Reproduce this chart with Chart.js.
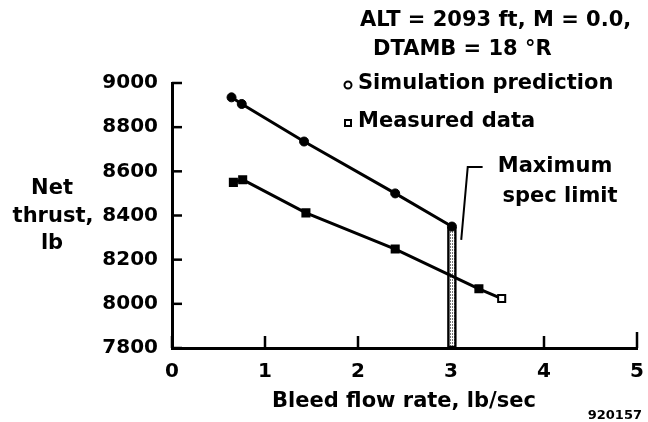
<!DOCTYPE html>
<html>
<head>
<meta charset="utf-8">
<script src="https://cdn.jsdelivr.net/npm/chart.js@4/dist/chart.umd.min.js"></script>
<style>
    html, body { margin: 0; padding: 0; background: #fff; }
    #wrap { width: 648px; height: 422px; }
</style>
</head>
<body>
<div id="wrap"><canvas id="thrust-chart" width="648" height="422"></canvas></div>
<script>
// Data
const simBleed = [0.64, 0.75, 1.42, 2.40, 3.01];
const simThrust = [8935, 8905, 8735, 8500, 8350];
const measBleed = [0.66, 0.76, 1.44, 2.40, 3.30, 3.545];
const measThrust = [8550, 8562, 8412, 8248, 8068, 8024];
const specLimitBleed = 3.01;
const specLimitThrust = [7800, 8348];
const xTicks = [0, 1, 2, 3, 4, 5];
const yTicks = [7800, 8000, 8200, 8400, 8600, 8800, 9000];

const FONT = "DejaVu Sans";

// stippled fill for the spec limit bar
function makeStipple() {
    const c = document.createElement("canvas");
    c.width = 2;
    c.height = 3;
    const g = c.getContext("2d");
    g.fillStyle = "#fff";
    g.fillRect(0, 0, 2, 3);
    g.fillStyle = "#777";
    g.fillRect(0, 0, 1, 2);
    return g.createPattern(c, "repeat");
}

// Inner tick marks and all the annotation text
const annotations = {
    id: "annotations",
    beforeDatasetsDraw(chart) {
        const ctx = chart.ctx;
        const x = chart.scales.x;
        const y = chart.scales.y;
        ctx.save();
        ctx.strokeStyle = "#000";
        ctx.lineWidth = 2.5;
        xTicks.forEach(v => {
            const px = x.getPixelForValue(v);
            const len = v === 5 ? 16 : 12;
            ctx.beginPath();
            ctx.moveTo(px, y.bottom);
            ctx.lineTo(px, y.bottom - len);
            ctx.stroke();
        });
        yTicks.forEach(v => {
            const py = y.getPixelForValue(v);
            ctx.beginPath();
            ctx.moveTo(x.left, py);
            ctx.lineTo(x.left + 10, py);
            ctx.stroke();
        });
        ctx.restore();
    },
    afterDraw(chart) {
        const ctx = chart.ctx;
        const x = chart.scales.x;
        const y = chart.scales.y;
        ctx.save();
        ctx.fillStyle = "#000";
        ctx.strokeStyle = "#000";
        ctx.textBaseline = "middle";

        // conditions block
        ctx.font = "bold 21px " + FONT;
        ctx.textAlign = "left";
        ctx.fillText("ALT = 2093 ft, M = 0.0,", 360, 21);
        ctx.fillText("DTAMB = 18 °R", 373, 50);

        // legend
        ctx.fillText("Simulation prediction", 358, 84);
        ctx.fillText("Measured data", 358, 122);
        ctx.lineWidth = 2;
        ctx.fillStyle = "#fff";
        ctx.beginPath();
        ctx.arc(348, 85, 3.5, 0, Math.PI * 2);
        ctx.fill();
        ctx.stroke();
        ctx.fillRect(345, 120, 6, 6);
        ctx.strokeRect(345, 120, 6, 6);
        ctx.fillStyle = "#000";

        // y axis title
        ctx.textAlign = "center";
        ctx.fillText("Net", 52, 189);
        ctx.fillText("thrust,", 53, 217);
        ctx.fillText("lb", 52, 244);

        // x axis title
        ctx.fillText("Bleed flow rate, lb/sec", 404, 402);

        // spec limit callout
        ctx.fillText("Maximum", 555, 167);
        ctx.fillText("spec limit", 560, 197);
        ctx.lineWidth = 2;
        ctx.beginPath();
        ctx.moveTo(x.getPixelForValue(3.11), y.getPixelForValue(8290));
        ctx.lineTo(x.getPixelForValue(3.18), y.getPixelForValue(8620));
        ctx.lineTo(x.getPixelForValue(3.34), y.getPixelForValue(8620));
        ctx.stroke();

        // figure number
        ctx.font = "bold 13px " + FONT;
        ctx.textAlign = "right";
        ctx.fillText("920157", 642, 416);
        ctx.restore();
    }
};

const ctx = document.getElementById("thrust-chart").getContext("2d");
new Chart(ctx, {
    type: "scatter",
    data: {
        datasets: [
            {
                label: "Simulation prediction",
                data: simBleed.map((b, i) => ({ x: b, y: simThrust[i] })),
                showLine: true,
                borderColor: "#000",
                borderWidth: 3,
                pointStyle: "circle",
                pointRadius: 4.5,
                pointBackgroundColor: "#000",
                pointBorderColor: "#000",
                pointBorderWidth: 1,
                order: 1
            },
            {
                label: "Measured data",
                data: measBleed.map((b, i) => ({ x: b, y: measThrust[i] })),
                showLine: true,
                borderColor: "#000",
                borderWidth: 3,
                pointStyle: "rect",
                pointRadius: 5,
                pointBackgroundColor: measBleed.map((b, i) => i === measBleed.length - 1 ? "#fff" : "#000"),
                pointBorderColor: "#000",
                pointBorderWidth: 2,
                order: 1
            },
            {
                type: "bar",
                label: "Maximum spec limit",
                data: [{ x: specLimitBleed, y: specLimitThrust }],
                barThickness: 9,
                backgroundColor: makeStipple(),
                borderColor: "#000",
                borderWidth: 2.5,
                borderSkipped: false,
                order: 2
            }
        ]
    },
    options: {
        responsive: false,
        animation: false,
        events: [],
        layout: { padding: { top: 83, right: 11, left: 0, bottom: 0 } },
        plugins: {
            legend: { display: false },
            tooltip: { enabled: false }
        },
        scales: {
            x: {
                type: "linear",
                min: 0,
                max: 5,
                offset: false,
                afterFit(scale) {
                    scale.height = 74;
                    scale.paddingLeft = 0;
                    scale.paddingRight = 0;
                },
                afterBuildTicks(scale) { scale.ticks = xTicks.map(v => ({ value: v })); },
                grid: { display: false, drawTicks: false },
                border: { display: true, color: "#000", width: 3 },
                ticks: {
                    padding: 12,
                    color: "#000",
                    font: { family: FONT, weight: "bold", size: 20 },
                    maxRotation: 0,
                    callback: v => String(v)
                }
            },
            y: {
                type: "linear",
                min: 7800,
                max: 9000,
                afterFit(scale) { scale.width = 172; },
                afterBuildTicks(scale) { scale.ticks = yTicks.map(v => ({ value: v })); },
                grid: { display: false, drawTicks: false },
                border: { display: true, color: "#000", width: 3 },
                ticks: {
                    padding: 14,
                    color: "#000",
                    font: { family: FONT, weight: "bold", size: 20 },
                    callback: v => String(v)
                }
            }
        }
    },
    plugins: [annotations]
});
</script>
</body>
</html>
